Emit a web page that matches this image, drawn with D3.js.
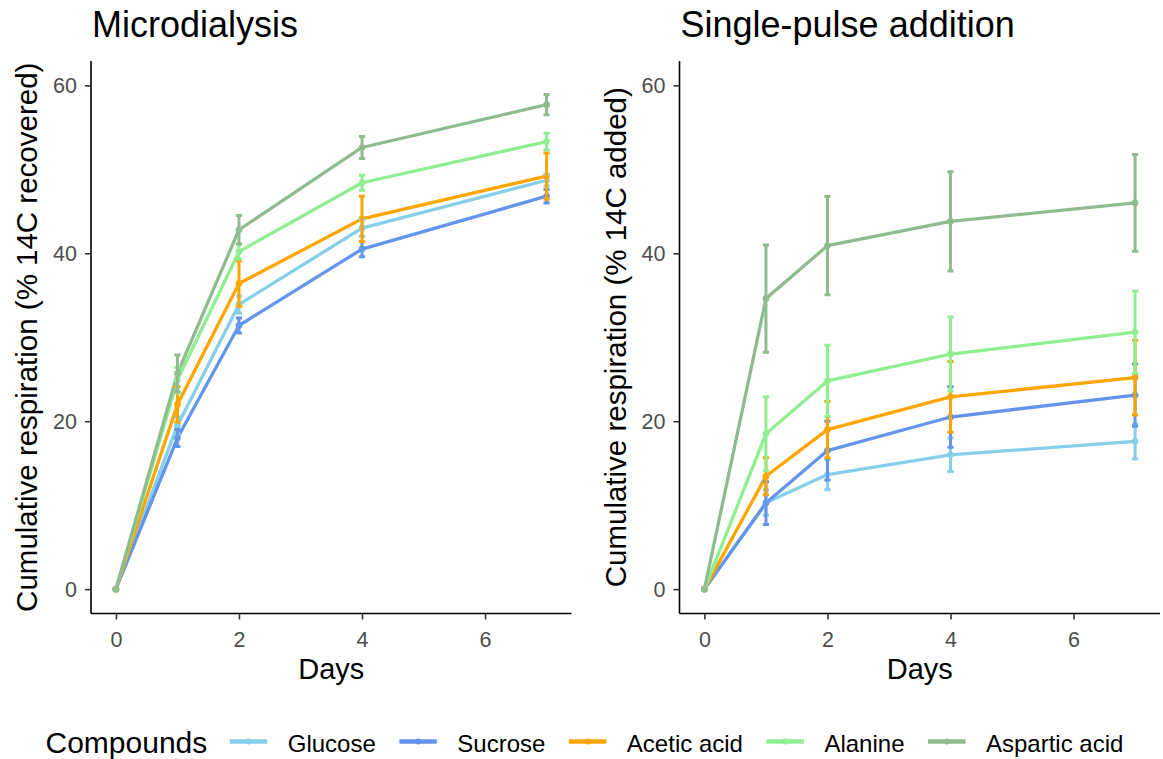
<!DOCTYPE html>
<html>
<head>
<meta charset="utf-8">
<script src="https://cdn.jsdelivr.net/npm/d3@7"></script>
<style>
  html, body { margin: 0; padding: 0; background: #ffffff; }
  svg { display: block; font-family: "Liberation Sans", Arial, Helvetica, sans-serif; }
</style>
</head>
<body>
<svg id="chart" width="1163" height="759"></svg>
<script>
// Sampling days
const days = [0, 1, 2, 4, 7];

// Compounds and their colours
const compounds = ["Glucose", "Sucrose", "Acetic acid", "Alanine", "Aspartic acid"];
const compoundColors = ["#87CEEB", "#6495ED", "#FFA500", "#90EE90", "#8FBC8F"];

// Microdialysis: cumulative respiration (% 14C recovered), mean and SE per day
const mdGlucose   = [0, 19.5, 33.9, 43.0, 48.7];
const mdSucrose   = [0, 18.0, 31.4, 40.5, 46.8];
const mdAcetic    = [0, 22.0, 36.4, 44.1, 49.2];
const mdAlanine   = [0, 24.9, 40.2, 48.4, 53.3];
const mdAspartic  = [0, 25.7, 42.8, 52.6, 57.7];
const mdGlucoseSE  = [0, 1.0, 1.0, 1.0, 0.7];
const mdSucroseSE  = [0, 1.0, 0.9, 0.9, 0.8];
const mdAceticSE   = [0, 2.1, 2.7, 2.7, 2.75];
const mdAlanineSE  = [0, 1.5, 0.9, 0.9, 1.0];
const mdAsparticSE = [0, 2.2, 1.7, 1.3, 1.2];

// Single-pulse addition: cumulative respiration (% 14C added), mean and SE per day
const spGlucose   = [0, 10.3, 13.65, 16.0, 17.6];
const spSucrose   = [0, 10.25, 16.5, 20.5, 23.1];
const spAcetic    = [0, 13.45, 19.0, 22.9, 25.2];
const spAlanine   = [0, 18.5, 24.8, 28.0, 30.6];
const spAspartic  = [0, 34.6, 40.9, 43.8, 46.0];
const spGlucoseSE  = [0, 1.5, 1.8, 2.0, 2.1];
const spSucroseSE  = [0, 2.55, 3.5, 3.6, 3.7];
const spAceticSE   = [0, 2.2, 3.35, 4.2, 4.45];
const spAlanineSE  = [0, 4.4, 4.25, 4.4, 4.9];
const spAsparticSE = [0, 6.4, 5.85, 5.9, 5.75];

// Axis ticks
const xTicks = [0, 2, 4, 6];
const yTicks = [0, 20, 40, 60];

function buildSeries(means, ses) {
  return compounds.map((name, i) => ({
    name,
    color: compoundColors[i],
    values: days.map((d, j) => ({ day: d, mean: means[i][j], se: ses[i][j] }))
  }));
}

const panels = [
  {
    title: "Microdialysis",
    ylabel: "Cumulative respiration (% 14C recovered)",
    left: 91, right: 571.5,
    series: buildSeries(
      [mdGlucose, mdSucrose, mdAcetic, mdAlanine, mdAspartic],
      [mdGlucoseSE, mdSucroseSE, mdAceticSE, mdAlanineSE, mdAsparticSE])
  },
  {
    title: "Single-pulse addition",
    ylabel: "Cumulative respiration (% 14C added)",
    left: 679.5, right: 1160,
    series: buildSeries(
      [spGlucose, spSucrose, spAcetic, spAlanine, spAspartic],
      [spGlucoseSE, spSucroseSE, spAceticSE, spAlanineSE, spAsparticSE])
  }
];

const svg = d3.select("#chart");
svg.append("rect").attr("width", 1163).attr("height", 759).attr("fill", "#ffffff");

const plotTop = 61, plotBottom = 613.5;
const capHalf = 0.05; // error bar cap half-width in days

panels.forEach(p => {
  const x = d3.scaleLinear().domain([-0.405, 7.405]).range([p.left, p.right]);
  const y = d3.scaleLinear().domain([-2.9, 62.9]).range([plotBottom, plotTop]);
  const g = svg.append("g");

  // Title
  g.append("text")
    .attr("x", p.left + 1).attr("y", 36.5)
    .attr("font-size", 36).attr("fill", "#000")
    .text(p.title);

  // Axes
  const xAxis = g.append("g")
    .attr("transform", `translate(0,${plotBottom})`)
    .call(d3.axisBottom(x).tickValues(xTicks).tickSize(6).tickPadding(12).tickSizeOuter(0));
  const yAxis = g.append("g")
    .attr("transform", `translate(${p.left},0)`)
    .call(d3.axisLeft(y).tickValues(yTicks).tickSize(6).tickPadding(8).tickSizeOuter(0));

  [xAxis, yAxis].forEach(a => {
    a.select(".domain").attr("stroke", "#000").attr("stroke-width", 1.6);
    a.selectAll(".tick line").attr("stroke", "#333333").attr("stroke-width", 1.6);
    a.selectAll(".tick text")
      .attr("fill", "#4D4D4D")
      .attr("font-size", 21.5)
      .attr("font-family", "Liberation Sans, Arial, sans-serif");
  });
  // Domain lines span the full panel
  xAxis.select(".domain").attr("d", `M${p.left},0H${p.right}`);
  yAxis.select(".domain").attr("d", `M0,${plotTop}V${plotBottom}`);

  // Axis titles
  g.append("text")
    .attr("x", (p.left + p.right) / 2).attr("y", 679)
    .attr("text-anchor", "middle").attr("font-size", 29).attr("fill", "#000")
    .text("Days");
  g.append("text")
    .attr("transform", `translate(${p.left - 54},${(plotTop + plotBottom) / 2}) rotate(-90)`)
    .attr("text-anchor", "middle").attr("font-size", 29.5).attr("fill", "#000")
    .text(p.ylabel);

  const line = d3.line().x(d => x(d.day)).y(d => y(d.mean));

  // Lines
  g.append("g").selectAll("path")
    .data(p.series).join("path")
    .attr("d", s => line(s.values))
    .attr("fill", "none")
    .attr("stroke", s => s.color)
    .attr("stroke-width", 3.3)
    .attr("stroke-linejoin", "round");

  // Points
  p.series.forEach(s => {
    g.append("g").selectAll("circle")
      .data(s.values).join("circle")
      .attr("cx", d => x(d.day)).attr("cy", d => y(d.mean))
      .attr("r", 3.3).attr("fill", s.color);
  });

  // Error bars (mean ± SE)
  p.series.forEach(s => {
    const eb = g.append("g").attr("stroke", s.color).attr("stroke-width", 3).attr("fill", "none");
    s.values.forEach(d => {
      const lo = y(d.mean - d.se), hi = y(d.mean + d.se);
      const x0 = x(d.day - capHalf), x1 = x(d.day + capHalf), xc = x(d.day);
      eb.append("path").attr("d", `M${xc},${hi}V${lo}M${x0},${hi}H${x1}M${x0},${lo}H${x1}`);
    });
  });
});

// Legend
const legend = svg.append("g");
const legendKeyY = 741.5;
const lt = legend.append("text")
  .attr("x", 45.5).attr("y", 752.5)
  .attr("font-size", 30).attr("fill", "#000")
  .text("Compounds");
let cursor = 45.5 + lt.node().getComputedTextLength() + 22.5;
compounds.forEach((name, i) => {
  const k = legend.append("g");
  k.append("line")
    .attr("x1", cursor).attr("x2", cursor + 37.5)
    .attr("y1", legendKeyY).attr("y2", legendKeyY)
    .attr("stroke", compoundColors[i]).attr("stroke-width", 4.5);
  k.append("circle")
    .attr("cx", cursor + 18.75).attr("cy", legendKeyY).attr("r", 3)
    .attr("fill", compoundColors[i]);
  const t = k.append("text")
    .attr("x", cursor + 37.5 + 20.5).attr("y", 751.5)
    .attr("font-size", 24).attr("fill", "#000")
    .text(name);
  cursor = cursor + 37.5 + 20.5 + t.node().getComputedTextLength() + 23.5;
});
</script>
</body>
</html>
